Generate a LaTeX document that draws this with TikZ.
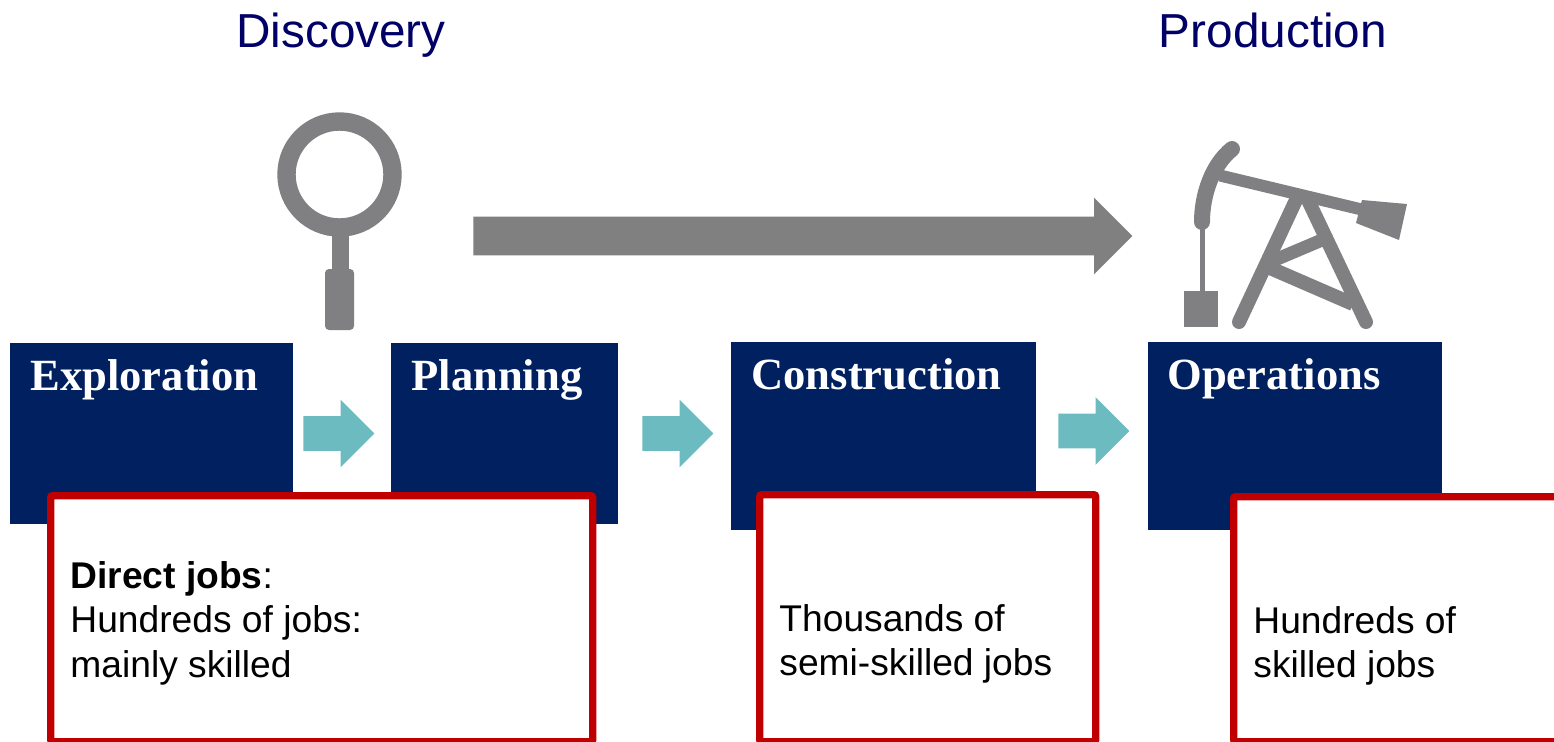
\documentclass[tikz,border=0pt]{standalone}
\usepackage{fontspec}
\usepackage{tikz}
\usetikzlibrary{shapes.arrows}
\setmainfont{Liberation Sans}
\newfontfamily\stagefont{Liberation Serif}
\definecolor{stageblue}{HTML}{012060}
\definecolor{jobred}{HTML}{C00000}
\definecolor{flowteal}{HTML}{6CBBC1}
\definecolor{flowgray}{HTML}{808080}
\definecolor{icongray}{HTML}{808083}
\definecolor{phaseblue}{HTML}{000066}
\tikzset{
	phase/.style = {text=phaseblue, inner sep=0pt, anchor=base, font=\fontsize{23.85}{28}\selectfont},
	stagebox/.style = {fill=stageblue, inner sep=0pt, anchor=north west},
	stagetext/.style = {text=white, inner sep=0pt, anchor=base west, font=\stagefont\bfseries\fontsize{22.3}{26}\selectfont},
	jobbox/.style = {draw=jobred, fill=white, line width=3.7pt, rounded corners=1pt, inner sep=0pt, anchor=north west},
	jobtext/.style = {text=black, inner sep=0pt, anchor=west, align=left, font=\fontsize{18.6}{22.2}\selectfont},
	flow/.style = {single arrow, fill=flowteal, inner xsep=0pt, inner ysep=8.5pt, anchor=tip,
		minimum height=35.5pt, minimum width=33.5pt,
		single arrow head extend=8.25pt, single arrow tip angle=90},
	icon/.style = {draw=icongray, line cap=round}
}
\begin{document}
\begin{tikzpicture}[x=0.5pt, y=-0.5pt]
	\useasboundingbox (0,0) rectangle (1554,741);
	\node[phase] (discovery) at (341,47) {Discovery};
	\node[phase] (production) at (1273,47) {Production};
	% magnifier
	\fill[icongray] (332,230) rectangle (349,272);
	\fill[icongray, rounded corners=2pt] (325,269) rectangle (354,330);
	\draw[icongray, line width=9.2pt] (339.5,174.5) circle (53);
	% pump
	\draw[icon, line width=8pt] (1232,149) .. controls (1212,165) and (1202,195) .. (1202,222);
	\draw[icon, line width=2.5pt, line cap=butt] (1202,222) -- (1202,292);
	\fill[icongray] (1184,291) rectangle (1218,327);
	\draw[icon, line width=6pt, line cap=butt] (1220,175.5) -- (1365,210.3);
	\fill[icongray] (1362,200) -- (1407,204) -- (1399,240) -- (1356,223) -- cycle;
	\draw[icon, line width=7pt] (1296,200) -- (1239,322);
	\draw[icon, line width=7pt] (1308,200) -- (1366,322);
	\draw[icon, line width=6.5pt, line cap=butt] (1270,262) -- (1322,240);
	\draw[icon, line width=7pt, line cap=butt] (1270,268) -- (1353,304);
	% big arrow
	\node[single arrow, fill=flowgray, inner xsep=0pt, inner ysep=9.5pt, anchor=tip,
		minimum height=329.5pt, minimum width=38pt,
		single arrow head extend=9.5pt, single arrow tip angle=90] (longrun) at (1133,236) {};
	% stages
	\node[stagebox, minimum width=141.5pt, minimum height=90.5pt] (exploration) at (10,343) {};
	\node[stagebox, minimum width=113.5pt, minimum height=90.5pt] (planning) at (391,343) {};
	\node[stagebox, minimum width=152.5pt, minimum height=94pt] (construction) at (731,342) {};
	\node[stagebox, minimum width=147pt, minimum height=94pt] (operations) at (1148,342) {};
	\node[stagetext] (explorationtext) at (30,390) {Exploration};
	\node[stagetext] (planningtext) at (411,390) {Planning};
	\node[stagetext] (constructiontext) at (751,389) {Construction};
	\node[stagetext] (operationstext) at (1167,389) {Operations};
	\node[flow] (flow1) at (375,433.5) {};
	\node[flow] (flow2) at (714,433.5) {};
	\node[flow] (flow3) at (1130,431) {};
	% jobs
	\node[jobbox, minimum width=271pt, minimum height=123pt] (job1) at (47,492) {};
	\node[jobbox, minimum width=168pt, minimum height=123.5pt] (job2) at (756,491) {};
	\node[jobbox, minimum width=170pt, minimum height=122.5pt] (job3) at (1230,493) {};
	\node[jobtext] (job1text) at (70,623) {\textbf{Direct jobs}:\\Hundreds of jobs:\\mainly skilled};
	\node[jobtext] (job2text) at (779,644) {Thousands of\\semi-skilled jobs};
	\node[jobtext] (job3text) at (1253,646) {Hundreds of\\skilled jobs};
\end{tikzpicture}
\end{document}
